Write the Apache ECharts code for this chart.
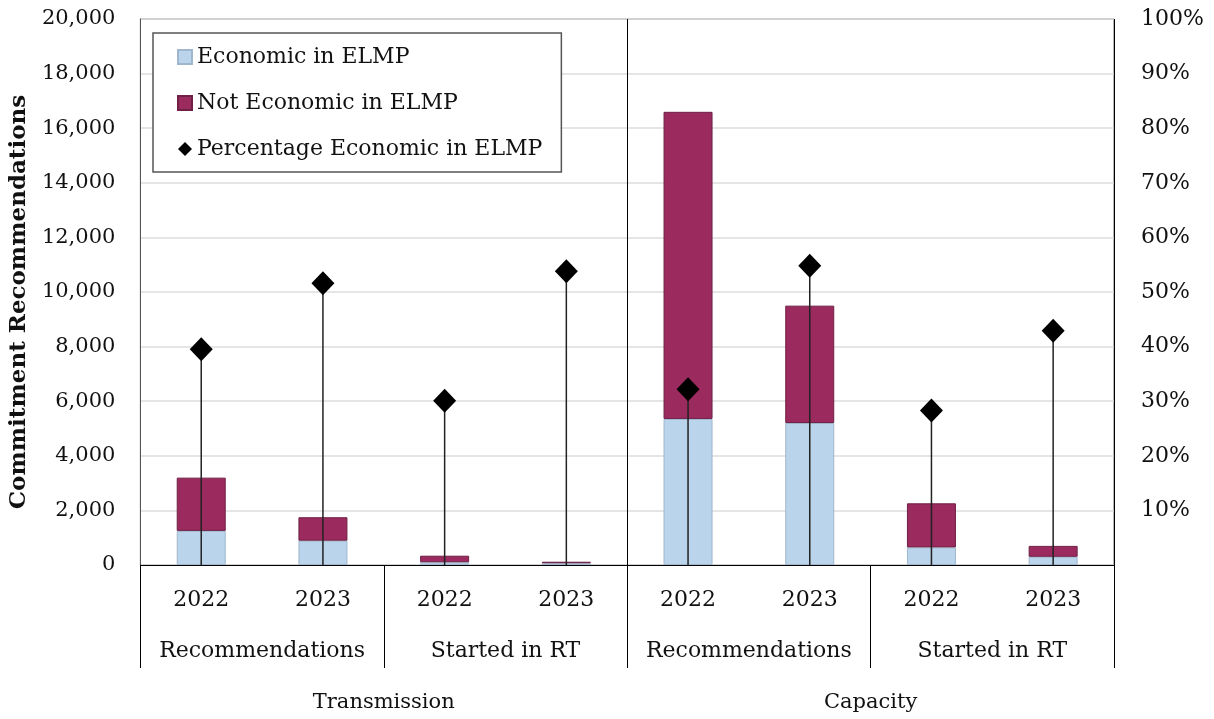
<!DOCTYPE html>
<html>
<head>
<meta charset="utf-8">
<script src="https://cdn.jsdelivr.net/npm/echarts@6/dist/echarts.min.js"></script>
<style>html,body{margin:0;padding:0;background:#fff;}#c{width:1214px;height:719px;}</style>
</head>
<body>
<div id="c"></div>
<script>
const years = ['2022','2023','2022','2023','2022','2023','2022','2023'];
const groups = ['Recommendations','Started in RT','Recommendations','Started in RT'];
const sections = ['Transmission','Capacity'];
const economic = [1250, 890, 100, 65, 5350, 5200, 645, 300];
const notEconomic = [1950, 860, 240, 55, 11250, 4300, 1615, 400];
const pctEconomic = [0.395, 0.516, 0.301, 0.538, 0.322, 0.548, 0.283, 0.429];

const FONT = 'DejaVu Serif';
const chart = echarts.init(document.getElementById('c'));
chart.setOption({
  animation: false,
  backgroundColor: '#fff',
  textStyle: { fontFamily: FONT, color: '#111' },
  grid: { left: 137, right: 100, top: 19, bottom: 154, show: true, borderColor: '#666', borderWidth: 1, containLabel: false },
  legend: {
    orient: 'vertical', left: 153, top: 33,
    padding: [13, 19, 12, 24], itemGap: 24,
    itemWidth: 14, itemHeight: 14,
    borderColor: '#555', borderWidth: 1.5, backgroundColor: '#fff',
    textStyle: { fontFamily: FONT, fontSize: 22, color: '#111' },
    data: [
      { name: 'Economic in ELMP', icon: 'rect' },
      { name: 'Not Economic in ELMP', icon: 'rect' },
      { name: 'Percentage Economic in ELMP', icon: 'diamond', itemStyle: { opacity: 1 } }
    ]
  },
  xAxis: [
    { type: 'category', data: years, position: 'bottom', offset: 0,
      axisLine: { show: true, lineStyle: { color: '#000', width: 1 } },
      axisTick: { show: false },
      axisLabel: { fontFamily: FONT, fontSize: 22, color: '#111', margin: 24, interval: 0 },
      splitLine: { show: false } },
    { type: 'category', data: years, position: 'bottom', offset: 0, show: false },
    { type: 'category', data: groups, position: 'bottom', offset: 0,
      axisLine: { show: false },
      axisTick: { show: true, interval: 0, length: 103, lineStyle: { color: '#000', width: 1 } },
      axisLabel: { fontFamily: FONT, fontSize: 22, color: '#111', margin: 75, interval: 0 },
      splitLine: { show: false } },
    { type: 'category', data: sections, position: 'bottom', offset: 0,
      axisLine: { show: false },
      axisTick: { show: false },
      axisLabel: { fontFamily: FONT, fontSize: 21, color: '#111', margin: 127, interval: 0 },
      splitLine: { show: true, interval: 0, lineStyle: { color: '#000', width: 1 } } }
  ],
  yAxis: [
    { type: 'value', min: 0, max: 20000, interval: 2000, position: 'left',
      name: 'Commitment Recommendations', nameLocation: 'middle', nameGap: 106,
      nameTextStyle: { fontFamily: FONT, fontSize: 23, fontWeight: 'bold', color: '#111', padding: [0, 20, 0, 0] },
      axisLine: { show: true, lineStyle: { color: '#555' } },
      axisTick: { show: false },
      axisLabel: { fontFamily: FONT, fontSize: 21, color: '#111', margin: 25,
        formatter: v => v.toLocaleString('en-US') },
      splitLine: { show: true, lineStyle: { color: '#dcdcdc', width: 1.5 } } },
    { type: 'value', min: 0, max: 1, interval: 0.1, position: 'right',
      axisLine: { show: false }, axisTick: { show: false },
      axisLabel: { fontFamily: FONT, fontSize: 22, color: '#111', margin: 27,
        formatter: v => v === 0 ? '' : Math.round(v * 100) + '%' },
      splitLine: { show: false } }
  ],
  series: [
    { name: 'Economic in ELMP', type: 'bar', stack: 'a', xAxisIndex: 0, yAxisIndex: 0,
      barWidth: 49, data: economic,
      itemStyle: { color: '#BAD4EB', borderColor: '#9fb6cc', borderWidth: 1 } },
    { name: 'Not Economic in ELMP', type: 'bar', stack: 'a', xAxisIndex: 0, yAxisIndex: 0,
      barWidth: 49, data: notEconomic,
      itemStyle: { color: '#9B2A5F', borderColor: '#6e2045', borderWidth: 1 } },
    { name: 'drop', type: 'bar', xAxisIndex: 1, yAxisIndex: 1, barWidth: 1.5,
      data: pctEconomic, itemStyle: { color: '#222' }, silent: true, z: 3 },
    { name: 'Percentage Economic in ELMP', type: 'scatter', xAxisIndex: 1, yAxisIndex: 1,
      symbol: 'diamond', symbolSize: [23, 24], data: pctEconomic, z: 4,
      itemStyle: { color: '#000', opacity: 1 } }
  ]
});
</script>
</body>
</html>
